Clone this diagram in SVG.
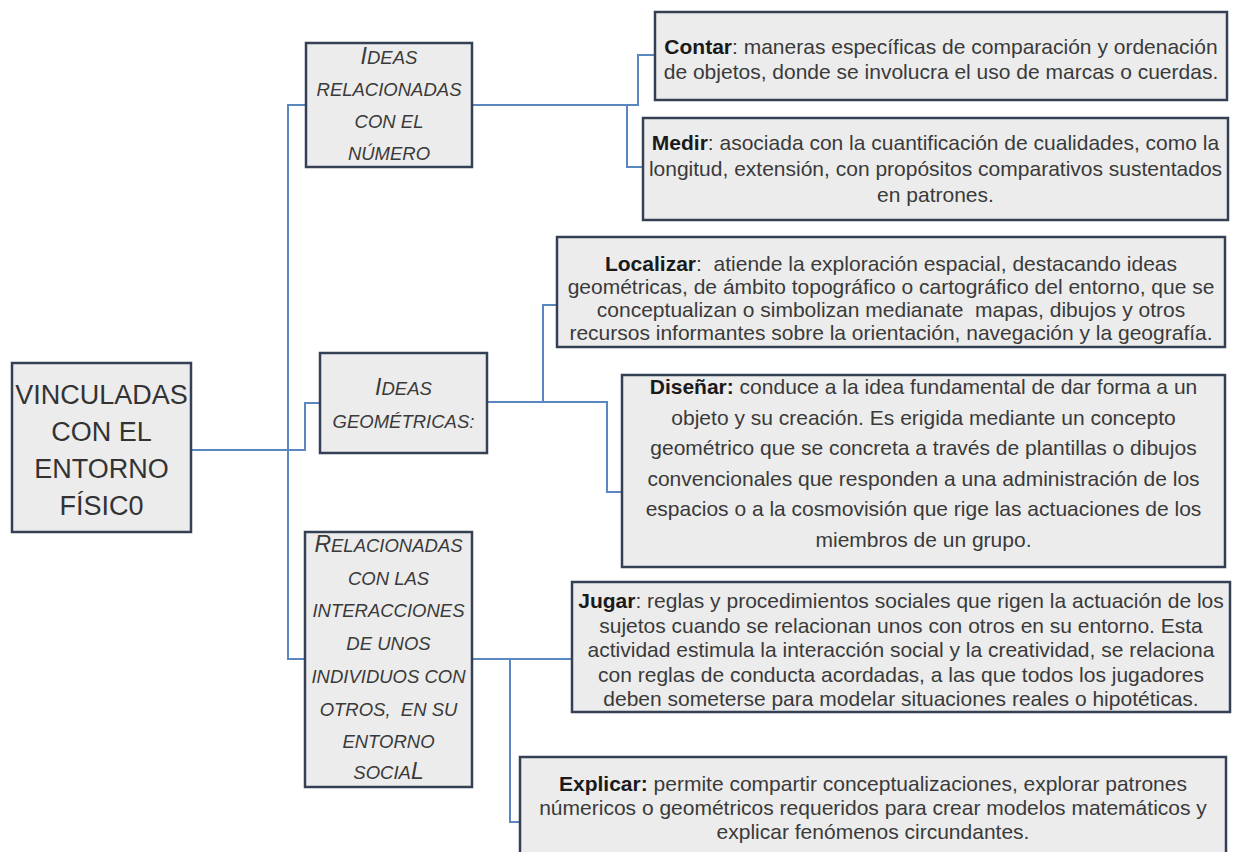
<svg xmlns="http://www.w3.org/2000/svg" width="1233" height="852" viewBox="0 0 1233 852">
<style>
.bg{fill:#ffffff}
.box{fill:#ececec;stroke:#364055;stroke-width:2.5}
.con{fill:none;stroke:#5a87c0;stroke-width:2}
.root{font-family:"Liberation Sans",Arial,sans-serif;font-size:27px;fill:#333333;text-anchor:middle}
.mid{font-family:"Liberation Sans",Arial,sans-serif;font-style:italic;font-size:18.5px;fill:#3a3a3a;text-anchor:middle;white-space:pre}
.big{font-size:23px}
.desc{font-family:"Liberation Sans",Arial,sans-serif;font-size:21px;fill:#3a3a3a;text-anchor:middle;white-space:pre}
.b{font-weight:bold;fill:#1a1a1a}
</style>
<rect class="bg" x="0" y="0" width="1233" height="852"/>
<g id="connectors">
<polyline class="con" points="191,450 288,450 288,105 306,105"/>
<polyline class="con" points="191,450 305,450 305,403 320,403"/>
<polyline class="con" points="288,450 288,659 305,659"/>
<polyline class="con" points="472,105 638,105 638,55 655,55"/>
<polyline class="con" points="627,105 627,167 643,167"/>
<polyline class="con" points="487,402 543,402 543,305 557,305"/>
<polyline class="con" points="543,402 607,402 607,492 622,492"/>
<polyline class="con" points="472,659 572,659"/>
<polyline class="con" points="510,659 510,822 520,822"/>
</g>
<g id="root">
<rect class="box" x="12" y="363" width="179" height="169"/>
<text class="root" x="101.5" y="404">VINCULADAS</text>
<text class="root" x="101.5" y="441">CON EL</text>
<text class="root" x="101.5" y="478">ENTORNO</text>
<text class="root" x="101.5" y="515">FÍSIC0</text>
</g>
<g id="ideas-numero">
<rect class="box" x="306" y="43" width="166" height="124"/>
<text class="mid" x="389" y="64"><tspan class="big">I</tspan>DEAS</text>
<text class="mid" x="389" y="96">RELACIONADAS</text>
<text class="mid" x="389" y="128">CON EL</text>
<text class="mid" x="389" y="160">NÚMERO</text>
</g>
<g id="ideas-geometricas">
<rect class="box" x="320" y="353" width="167" height="100"/>
<text class="mid" x="403.5" y="395"><tspan class="big">I</tspan>DEAS</text>
<text class="mid" x="403.5" y="428">GEOMÉTRICAS:</text>
</g>
<g id="relacionadas-interacciones">
<rect class="box" x="305" y="532" width="167" height="255"/>
<text class="mid" x="388.5" y="552"><tspan class="big">R</tspan>ELACIONADAS</text>
<text class="mid" x="388.5" y="585">CON LAS</text>
<text class="mid" x="388.5" y="617">INTERACCIONES</text>
<text class="mid" x="388.5" y="650">DE UNOS</text>
<text class="mid" x="388.5" y="683">INDIVIDUOS CON</text>
<text class="mid" x="388.5" y="716">OTROS,  EN SU</text>
<text class="mid" x="388.5" y="748">ENTORNO</text>
<text class="mid" x="388.5" y="779">SOCIA<tspan class="big">L</tspan></text>
</g>
<g id="contar">
<rect class="box" x="655" y="12" width="572" height="88"/>
<text class="desc" x="941" y="54"><tspan class="b">Contar</tspan>: maneras específicas de comparación y ordenación</text>
<text class="desc" x="941" y="79">de objetos, donde se involucra el uso de marcas o cuerdas.</text>
</g>
<g id="medir">
<rect class="box" x="643" y="118" width="585" height="102"/>
<text class="desc" x="935.5" y="150"><tspan class="b">Medir</tspan>: asociada con la cuantificación de cualidades, como la</text>
<text class="desc" x="935.5" y="176">longitud, extensión, con propósitos comparativos sustentados</text>
<text class="desc" x="935.5" y="202">en patrones.</text>
</g>
<g id="localizar">
<rect class="box" x="557" y="237" width="668" height="110"/>
<text class="desc" x="891" y="271"><tspan class="b">Localizar</tspan>:  atiende la exploración espacial, destacando ideas</text>
<text class="desc" x="891" y="294">geométricas, de ámbito topográfico o cartográfico del entorno, que se</text>
<text class="desc" x="891" y="317">conceptualizan o simbolizan medianate  mapas, dibujos y otros</text>
<text class="desc" x="891" y="340">recursos informantes sobre la orientación, navegación y la geografía.</text>
</g>
<g id="disenar">
<rect class="box" x="622" y="375" width="603" height="192"/>
<text class="desc" x="923.5" y="394"><tspan class="b">Diseñar:</tspan> conduce a la idea fundamental de dar forma a un</text>
<text class="desc" x="923.5" y="424.5">objeto y su creación. Es erigida mediante un concepto</text>
<text class="desc" x="923.5" y="455">geométrico que se concreta a través de plantillas o dibujos</text>
<text class="desc" x="923.5" y="485.5">convencionales que responden a una administración de los</text>
<text class="desc" x="923.5" y="516">espacios o a la cosmovisión que rige las actuaciones de los</text>
<text class="desc" x="923.5" y="546.5">miembros de un grupo.</text>
</g>
<g id="jugar">
<rect class="box" x="572" y="582" width="658" height="130"/>
<text class="desc" x="901" y="608"><tspan class="b">Jugar</tspan>: reglas y procedimientos sociales que rigen la actuación de los</text>
<text class="desc" x="901" y="632.5">sujetos cuando se relacionan unos con otros en su entorno. Esta</text>
<text class="desc" x="901" y="657">actividad estimula la interacción social y la creatividad, se relaciona</text>
<text class="desc" x="901" y="681.5">con reglas de conducta acordadas, a las que todos los jugadores</text>
<text class="desc" x="901" y="706">deben someterse para modelar situaciones reales o hipotéticas.</text>
</g>
<g id="explicar">
<rect class="box" x="520" y="757" width="706" height="110"/>
<text class="desc" x="873" y="791"><tspan class="b">Explicar:</tspan> permite compartir conceptualizaciones, explorar patrones</text>
<text class="desc" x="873" y="815">númericos o geométricos requeridos para crear modelos matemáticos y</text>
<text class="desc" x="873" y="839">explicar fenómenos circundantes.</text>
</g>
</svg>
